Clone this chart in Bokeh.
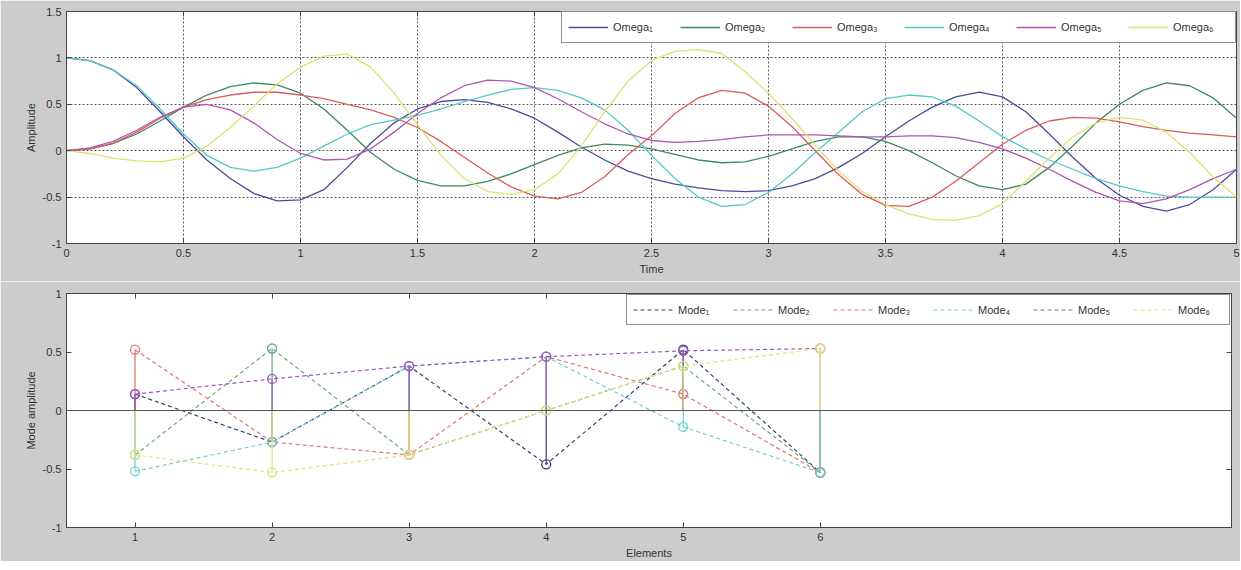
from bokeh.plotting import figure
from bokeh.models import (Legend, LegendItem, LinearAxis, FixedTicker, Range1d,
                          Span, CustomJSTickFormatter)
from bokeh.embed import file_html
from bokeh.resources import INLINE

# ---------------- data ----------------
time = [0.0, 0.1, 0.2, 0.3, 0.4, 0.5, 0.6, 0.7, 0.8, 0.9,
        1.0, 1.1, 1.2, 1.3, 1.4, 1.5, 1.6, 1.7, 1.8, 1.9,
        2.0, 2.1, 2.2, 2.3, 2.4, 2.5, 2.6, 2.7, 2.8, 2.9,
        3.0, 3.1, 3.2, 3.3, 3.4, 3.5, 3.6, 3.7, 3.8, 3.9,
        4.0, 4.1, 4.2, 4.3, 4.4, 4.5, 4.6, 4.7, 4.8, 4.9, 5.0]

omega1 = [1.0, 0.97, 0.87, 0.68, 0.42, 0.15, -0.1, -0.3, -0.46, -0.54,
          -0.53, -0.42, -0.18, 0.08, 0.3, 0.45, 0.53, 0.55, 0.52, 0.45,
          0.35, 0.2, 0.04, -0.1, -0.22, -0.3, -0.36, -0.4, -0.43, -0.44,
          -0.43, -0.38, -0.3, -0.18, -0.03, 0.15, 0.32, 0.47, 0.58, 0.63,
          0.58, 0.42, 0.18, -0.07, -0.3, -0.48, -0.6, -0.65, -0.58, -0.42, -0.2]
omega2 = [0.0, 0.02, 0.08, 0.18, 0.32, 0.47, 0.6, 0.69, 0.73, 0.71,
          0.62, 0.45, 0.22, -0.02, -0.2, -0.32, -0.38, -0.38, -0.33, -0.25,
          -0.15, -0.05, 0.03, 0.07, 0.06, 0.02, -0.04, -0.1, -0.13, -0.12,
          -0.06, 0.02, 0.1, 0.15, 0.15, 0.1, 0.0, -0.13, -0.27, -0.38,
          -0.42, -0.36, -0.18, 0.05, 0.3, 0.5, 0.65, 0.73, 0.7, 0.57, 0.35]
omega3 = [0.0, 0.02, 0.08, 0.2, 0.35, 0.47, 0.55, 0.6, 0.63, 0.63,
          0.6, 0.56, 0.5, 0.44, 0.36, 0.25, 0.1, -0.07, -0.24, -0.39,
          -0.49, -0.52, -0.45, -0.28, -0.04, 0.16, 0.4, 0.57, 0.65, 0.62,
          0.48, 0.26, 0.0, -0.26, -0.47, -0.59, -0.6, -0.5, -0.33, -0.13,
          0.07, 0.22, 0.32, 0.36, 0.35, 0.31, 0.26, 0.22, 0.19, 0.17, 0.15]
omega4 = [1.0, 0.97, 0.87, 0.7, 0.45, 0.18, -0.05, -0.18, -0.22, -0.18,
          -0.08, 0.05, 0.18, 0.28, 0.33, 0.38, 0.45, 0.53, 0.6, 0.66,
          0.68, 0.65, 0.57, 0.44, 0.22, -0.05, -0.3, -0.5, -0.6, -0.58,
          -0.45, -0.25, -0.02, 0.2, 0.42, 0.56, 0.6, 0.58, 0.48, 0.32,
          0.15, 0.02, -0.1, -0.2, -0.3, -0.38, -0.44, -0.49, -0.5, -0.5, -0.5]
omega5 = [0.0, 0.03, 0.1, 0.22, 0.36, 0.47, 0.5, 0.44, 0.3, 0.12,
          -0.03, -0.1, -0.09, 0.02, 0.2, 0.4, 0.57, 0.7, 0.76, 0.75,
          0.68, 0.56, 0.42, 0.29, 0.18, 0.11, 0.09, 0.1, 0.12, 0.15,
          0.17, 0.17, 0.17, 0.16, 0.15, 0.15, 0.16, 0.16, 0.14, 0.09,
          0.02, -0.08, -0.2, -0.33, -0.45, -0.54, -0.57, -0.52, -0.42, -0.3, -0.2]
omega6 = [0.0, -0.03, -0.08, -0.11, -0.12, -0.08, 0.05, 0.25, 0.48, 0.72,
          0.9, 1.02, 1.04, 0.9, 0.62, 0.28, -0.05, -0.3, -0.44, -0.47,
          -0.42, -0.25, 0.05, 0.42, 0.75, 0.97, 1.07, 1.09, 1.05, 0.85,
          0.62, 0.35, 0.06, -0.22, -0.44, -0.58, -0.68, -0.74, -0.75, -0.7,
          -0.57, -0.33, -0.08, 0.15, 0.3, 0.36, 0.33, 0.2, -0.02, -0.28, -0.5]

omega_series = [omega1, omega2, omega3, omega4, omega5, omega6]
omega_labels = ["Omega\u2081", "Omega\u2082", "Omega\u2083",
                "Omega\u2084", "Omega\u2085", "Omega\u2086"]

elements = [1, 2, 3, 4, 5, 6]
mode1 = [0.14, -0.27, 0.38, -0.46, 0.52, -0.53]
mode2 = [-0.38, 0.53, -0.38, 0.0, 0.38, -0.53]
mode3 = [0.52, -0.27, -0.38, 0.46, 0.14, -0.53]
mode4 = [-0.52, -0.27, 0.38, 0.46, -0.14, -0.53]
mode5 = [0.14, 0.27, 0.38, 0.46, 0.51, 0.53]
mode6 = [-0.38, -0.53, -0.38, 0.0, 0.38, 0.53]
mode_series = [mode1, mode2, mode3, mode4, mode5, mode6]
mode_labels = ["Mode\u2081", "Mode\u2082", "Mode\u2083",
               "Mode\u2084", "Mode\u2085", "Mode\u2086"]

top_xticks = [0, 0.5, 1, 1.5, 2, 2.5, 3, 3.5, 4, 4.5, 5]
top_yticks = [-1, -0.5, 0, 0.5, 1, 1.5]
bot_xticks = [1, 2, 3, 4, 5, 6]
bot_yticks = [-1, -0.5, 0, 0.5, 1]

# ---------------- style ----------------
FONT = "Liberation Sans"
BG = "#cccccc"
TXT = "#333333"
AX = "#444444"
omega_colors = ["#4b4b9b", "#3b8b5b", "#dd5a5a", "#55c8c8", "#b055b0", "#e0e070"]
mode_colors = ["#3c3c78", "#6aa87a", "#e07575", "#70d0d0", "#9a5cba", "#e4e482"]

fmt = CustomJSTickFormatter(code="return String(Math.round(tick*100)/100);")
blank = CustomJSTickFormatter(code="return '';")


def style_axis(ax, ticks, label=None):
    ax.ticker = FixedTicker(ticks=ticks)
    ax.formatter = fmt
    ax.major_tick_in = 5
    ax.major_tick_out = 0
    ax.minor_tick_line_color = None
    ax.major_tick_line_color = AX
    ax.axis_line_color = AX
    ax.major_label_text_font = FONT
    ax.major_label_text_font_size = "11px"
    ax.major_label_text_color = TXT
    ax.major_label_standoff = 5
    if label:
        ax.axis_label = label
        ax.axis_label_text_font = FONT
        ax.axis_label_text_font_size = "11px"
        ax.axis_label_text_font_style = "normal"
        ax.axis_label_text_color = TXT
        ax.axis_label_standoff = 3


def mirror(p, ticks, side):
    ax = LinearAxis(ticker=FixedTicker(ticks=ticks), formatter=blank)
    ax.major_tick_in = 5
    ax.major_tick_out = 0
    ax.minor_tick_line_color = None
    ax.major_tick_line_color = AX
    ax.axis_line_color = AX
    ax.major_label_standoff = 0
    p.add_layout(ax, side)


# ---------------- top plot ----------------
p1 = figure(width=1240, height=281, x_range=Range1d(0, 5), y_range=Range1d(-1, 1.5),
            output_backend="svg", toolbar_location=None,
            min_border_left=66, min_border_right=4, min_border_top=11, min_border_bottom=38)
p1.border_fill_color = BG
p1.background_fill_color = "white"
p1.outline_line_color = AX
style_axis(p1.xaxis[0], top_xticks, "Time")
style_axis(p1.yaxis[0], top_yticks, "Amplitude")
for g in (p1.xgrid[0], p1.ygrid[0]):
    g.grid_line_color = "#222222"
    g.grid_line_dash = "2 2"
    g.grid_line_alpha = 0.75
mirror(p1, top_xticks, "above")

items = []
for ser, col, lab in zip(omega_series, omega_colors, omega_labels):
    r = p1.line(time, ser, line_color=col, line_width=1.3)
    items.append(LegendItem(label=lab, renderers=[r]))
leg1 = Legend(items=items, orientation="horizontal", location="top_right", margin=0,
              padding=6, spacing=11, glyph_width=40, glyph_height=18, label_width=56,
              label_standoff=5, label_text_font=FONT, label_text_font_size="11px",
              label_text_color=TXT, border_line_color="#222222", border_line_width=1,
              background_fill_color="white", background_fill_alpha=1)
p1.add_layout(leg1)

# ---------------- bottom plot ----------------
p2 = figure(width=1240, height=280, x_range=Range1d(0.5, 9), y_range=Range1d(-1, 1),
            output_backend="svg", toolbar_location=None,
            min_border_left=66, min_border_right=9, min_border_top=12, min_border_bottom=34)
p2.border_fill_color = BG
p2.background_fill_color = "white"
p2.outline_line_color = AX
p2.grid.visible = False
style_axis(p2.xaxis[0], bot_xticks, "Elements")
style_axis(p2.yaxis[0], bot_yticks, "Mode amplitude")
mirror(p2, bot_xticks, "above")
mirror(p2, bot_yticks, "right")

p2.add_layout(Span(location=0, dimension="width", line_color="#555555", line_width=1.2))

items2 = []
for ser, col, lab in zip(mode_series, mode_colors, mode_labels):
    zeros = [0] * len(ser)
    p2.segment(x0=elements, y0=zeros, x1=elements, y1=ser, line_color=col, line_width=1.2)
    r = p2.line(elements, ser, line_color=col, line_width=1.2, line_dash="4 3")
    p2.scatter(elements, ser, marker="circle", size=9, fill_color=None,
               line_color=col, line_width=1.3)
    items2.append(LegendItem(label=lab, renderers=[r]))
leg2 = Legend(items=items2, orientation="horizontal", location="top_right", margin=1,
              padding=6, spacing=10, glyph_width=40, glyph_height=17, label_width=45,
              label_standoff=5, label_text_font=FONT, label_text_font_size="11px",
              label_text_color=TXT, border_line_color="#222222", border_line_width=1,
              background_fill_color="white", background_fill_alpha=1)
p2.add_layout(leg2)

html = file_html([p1, p2], INLINE)
html = html.replace("<body>", '<body style="background-color:#cccccc; overflow:hidden;">', 1)
open("out.html", "w").write(html)
